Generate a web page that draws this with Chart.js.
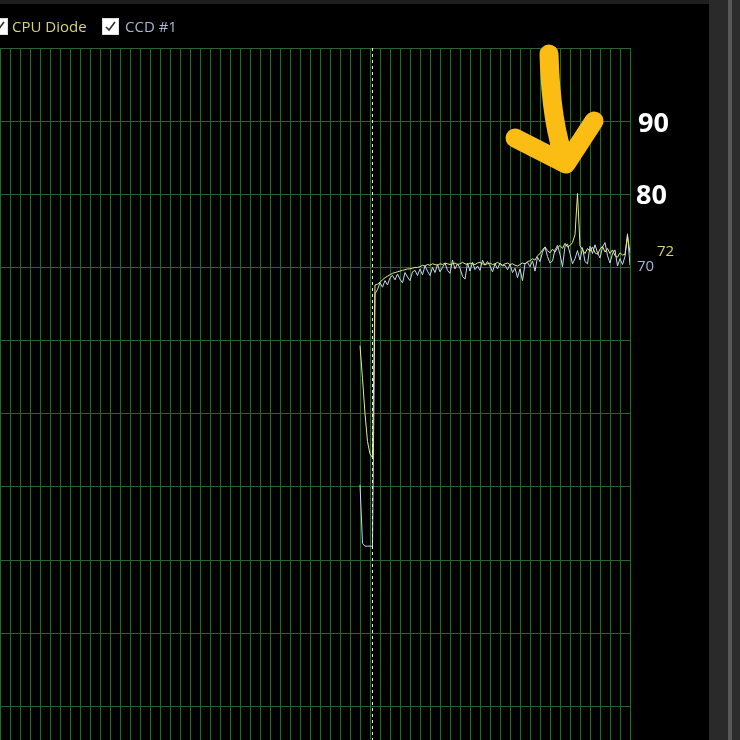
<!DOCTYPE html>
<html>
<head>
<meta charset="utf-8">
<script src="https://cdn.jsdelivr.net/npm/chart.js@4"></script>
<style>
  html, body { margin: 0; padding: 0; background: #000; width: 740px; height: 740px; overflow: hidden; }
  #topo { position: absolute; left: 0; top: 0; width: 709px; height: 4px; background: #1f1f1f; }
  #legenda { position: absolute; left: 0; top: 15px; height: 22px; font-family: "Open Sans", sans-serif; font-size: 15px; }
  .item { position: absolute; top: 0; white-space: nowrap; line-height: 22px; }
  .caixa { position: absolute; top: 3px; width: 15px; height: 15px; background: #fff; border: 1px solid #ddd; }
  .caixa svg { position: absolute; left: 1px; top: 1px; }
  #grafico { position: absolute; left: 0; top: 0; width: 709px; height: 740px; }
  #borda1 { position: absolute; left: 709px; top: 0; width: 19px; height: 740px; background: #2a2a2a; }
  #borda2 { position: absolute; left: 728px; top: 0; width: 4px; height: 740px; background: #585858; }
  #borda3 { position: absolute; left: 732px; top: 0; width: 8px; height: 740px; background: #2c2c2c; }
</style>
</head>
<body>
<div id="topo"></div>
<div id="grafico"><canvas id="meuGrafico" width="709" height="740"></canvas></div>
<div id="legenda">
  <div class="item" style="left:-9px">
    <span class="caixa" style="left:0"><svg width="13" height="13"><path d="M2 7 L5 10 L11 2" stroke="#333" stroke-width="1.7" fill="none"/></svg></span>
    <span style="position:absolute;left:21px;color:#d7d37c">CPU Diode</span>
  </div>
  <div class="item" style="left:102px">
    <span class="caixa" style="left:0"><svg width="13" height="13"><path d="M2 7 L5 10 L11 2" stroke="#333" stroke-width="1.7" fill="none"/></svg></span>
    <span style="position:absolute;left:23px;color:#a9b6cf">CCD #1</span>
  </div>
</div>
<div id="borda1"></div><div id="borda2"></div><div id="borda3"></div>
<script>
// eixo x em amostras (1 s cada), grade a cada 4 amostras
const amostraInicial = 144;
const amostraFinal = 252;
const marcador = 148.8; // linha pontilhada (início do teste)

// CPU Diode (°C)
const cpuDiode = [
  59.3, 54.8, 50.0, 46.2, 44.5, 44.0,
  67.6, 67.7, 68.0, 68.3, 68.6, 68.8, 69.0, 69.2, 69.3, 69.4, 69.5, 69.6, 69.7, 69.8, 69.8, 69.9, 70.0, 70.0,
  70.1, 70.3, 70.2, 70.4, 70.3, 70.5, 70.4, 70.3, 70.5, 70.4, 70.6, 70.5,
  70.4, 70.5, 70.6, 70.4, 70.5, 70.7, 70.5, 70.4, 70.6, 70.5, 70.4, 70.6, 70.7, 70.5, 70.4, 70.5,
  70.6, 70.4, 70.5, 70.7, 70.5, 70.3, 70.5, 70.6, 70.4, 70.5, 70.3, 70.2, 70.4, 70.6, 70.5, 70.8,
  70.9, 71.2, 71.0, 71.6, 71.9, 72.4, 72.8, 72.3, 72.0, 72.5, 72.1, 72.7,
  73.0, 72.6, 73.3, 72.8, 73.0, 73.4, 74.5, 80.1,
  73.0, 72.4, 71.9, 72.6, 72.2, 72.8, 72.0, 71.8, 72.5, 72.9, 72.1, 72.6, 71.9, 72.4, 71.6, 71.4, 72.0, 71.7, 71.8, 74.3, 72.0
];

// CCD #1 (°C)
const ccd1 = [
  40.3, 32.3, 31.9, 31.9, 31.9, 31.9,
  66.4, 67.0, 67.9, 67.3, 68.2, 67.6, 68.6, 68.9, 68.3, 69.1, 68.4, 67.9, 69.3, 68.7,
  68.2, 69.4, 69.6, 68.9, 69.8, 69.0, 70.2, 69.5, 68.9, 70.0, 69.3, 70.4, 69.4, 70.0, 70.6, 69.6,
  69.2, 71.0, 69.8, 70.5, 69.9, 68.8, 68.4, 70.6, 69.5, 70.7, 69.7, 70.2, 69.6, 71.0, 70.3, 70.8,
  70.2, 69.4, 70.5, 69.8, 70.6, 70.2, 70.3, 69.7, 70.4, 69.3, 69.9, 68.6, 69.8, 68.2, 70.5, 70.7,
  70.1, 70.9, 69.5, 71.4, 70.8, 72.1, 72.8, 71.5, 70.6, 70.9, 72.4, 73.0,
  71.8, 70.1, 72.9, 73.2, 71.9, 70.5, 71.2, 72.3, 71.0, 72.7, 70.8, 70.5, 72.9, 71.9,
  73.1, 72.0, 71.3, 72.8, 73.4, 71.6, 70.6, 71.9, 72.4, 70.2, 71.2, 70.4, 71.5, 74.6, 70.3
];

const valoresAtuais = ["72", "70"];
const marcasGrandes = [90, 80];

const paraPontos = (lista) => lista.map((v, i) => ({ x: amostraInicial + i, y: v }));

// Desenho extra: linha pontilhada, rótulos e seta amarela
const extras = {
  id: "extras",
  afterDatasetsDraw(chart) {
    const { ctx, scales: { x }, chartArea } = chart;
    ctx.save();
    const xm = Math.round(x.getPixelForValue(marcador)) + 0.5;
    ctx.strokeStyle = "#f2f0d8";
    ctx.lineWidth = 1;
    ctx.setLineDash([3, 3]);
    ctx.beginPath();
    ctx.moveTo(xm, chartArea.top);
    ctx.lineTo(xm, chartArea.bottom);
    ctx.stroke();
    ctx.setLineDash([]);
    ctx.restore();
  },
  afterDraw(chart) {
    const { ctx, scales: { y } } = chart;
    ctx.save();
    ctx.textBaseline = "middle";
    ctx.font = "15px 'Open Sans'";
    ctx.fillStyle = "#d7d37c";
    ctx.fillText(valoresAtuais[0], 657, y.getPixelForValue(72.1));
    ctx.fillStyle = "#a9b6cf";
    ctx.fillText(valoresAtuais[1], 637, y.getPixelForValue(70.3) + 1);

    ctx.font = "bold 27px 'Open Sans'";
    ctx.fillStyle = "#ffffff";
    ctx.fillText(String(marcasGrandes[0]), 638, y.getPixelForValue(90) + 3);
    ctx.fillText(String(marcasGrandes[1]), 636, y.getPixelForValue(80) + 2);

    // seta
    ctx.strokeStyle = "#fbbd14";
    ctx.lineWidth = 19;
    ctx.lineCap = "round";
    ctx.lineJoin = "round";
    ctx.beginPath();
    ctx.moveTo(549, 54);
    ctx.quadraticCurveTo(551, 125, 566, 163);
    ctx.stroke();
    ctx.beginPath();
    ctx.moveTo(515, 138);
    ctx.lineTo(566, 164);
    ctx.lineTo(594, 121);
    ctx.stroke();
    ctx.restore();
  }
};

const corGrade = "#2a6430";

new Chart(document.getElementById("meuGrafico"), {
  type: "line",
  data: {
    datasets: [
      {
        label: "CPU Diode",
        data: paraPontos(cpuDiode),
        borderColor: "#e8e888",
        borderWidth: 1,
        pointRadius: 0,
        tension: 0
      },
      {
        label: "CCD #1",
        data: paraPontos(ccd1),
        borderColor: "#c8d6ee",
        borderWidth: 1,
        pointRadius: 0,
        tension: 0
      }
    ]
  },
  options: {
    responsive: false,
    animation: false,
    layout: { padding: { top: 48, left: 0, right: 79, bottom: 0 } },
    plugins: { legend: { display: false }, tooltip: { enabled: false } },
    scales: {
      x: {
        type: "linear",
        min: 0,
        max: amostraFinal,
        ticks: { display: false, stepSize: 4, maxTicksLimit: 1000 },
        grid: { color: corGrade, drawTicks: false, lineWidth: 1 },
        border: { display: false }
      },
      y: {
        min: 5.4,
        max: 100,
        ticks: { display: false, stepSize: 10 },
        afterBuildTicks: (s) => { s.ticks = s.ticks.filter(t => Math.abs(t.value % 10) < 0.01); },
        grid: { color: corGrade, drawTicks: false, lineWidth: 1 },
        border: { display: false }
      }
    }
  },
  plugins: [extras]
});
</script>
</body>
</html>
